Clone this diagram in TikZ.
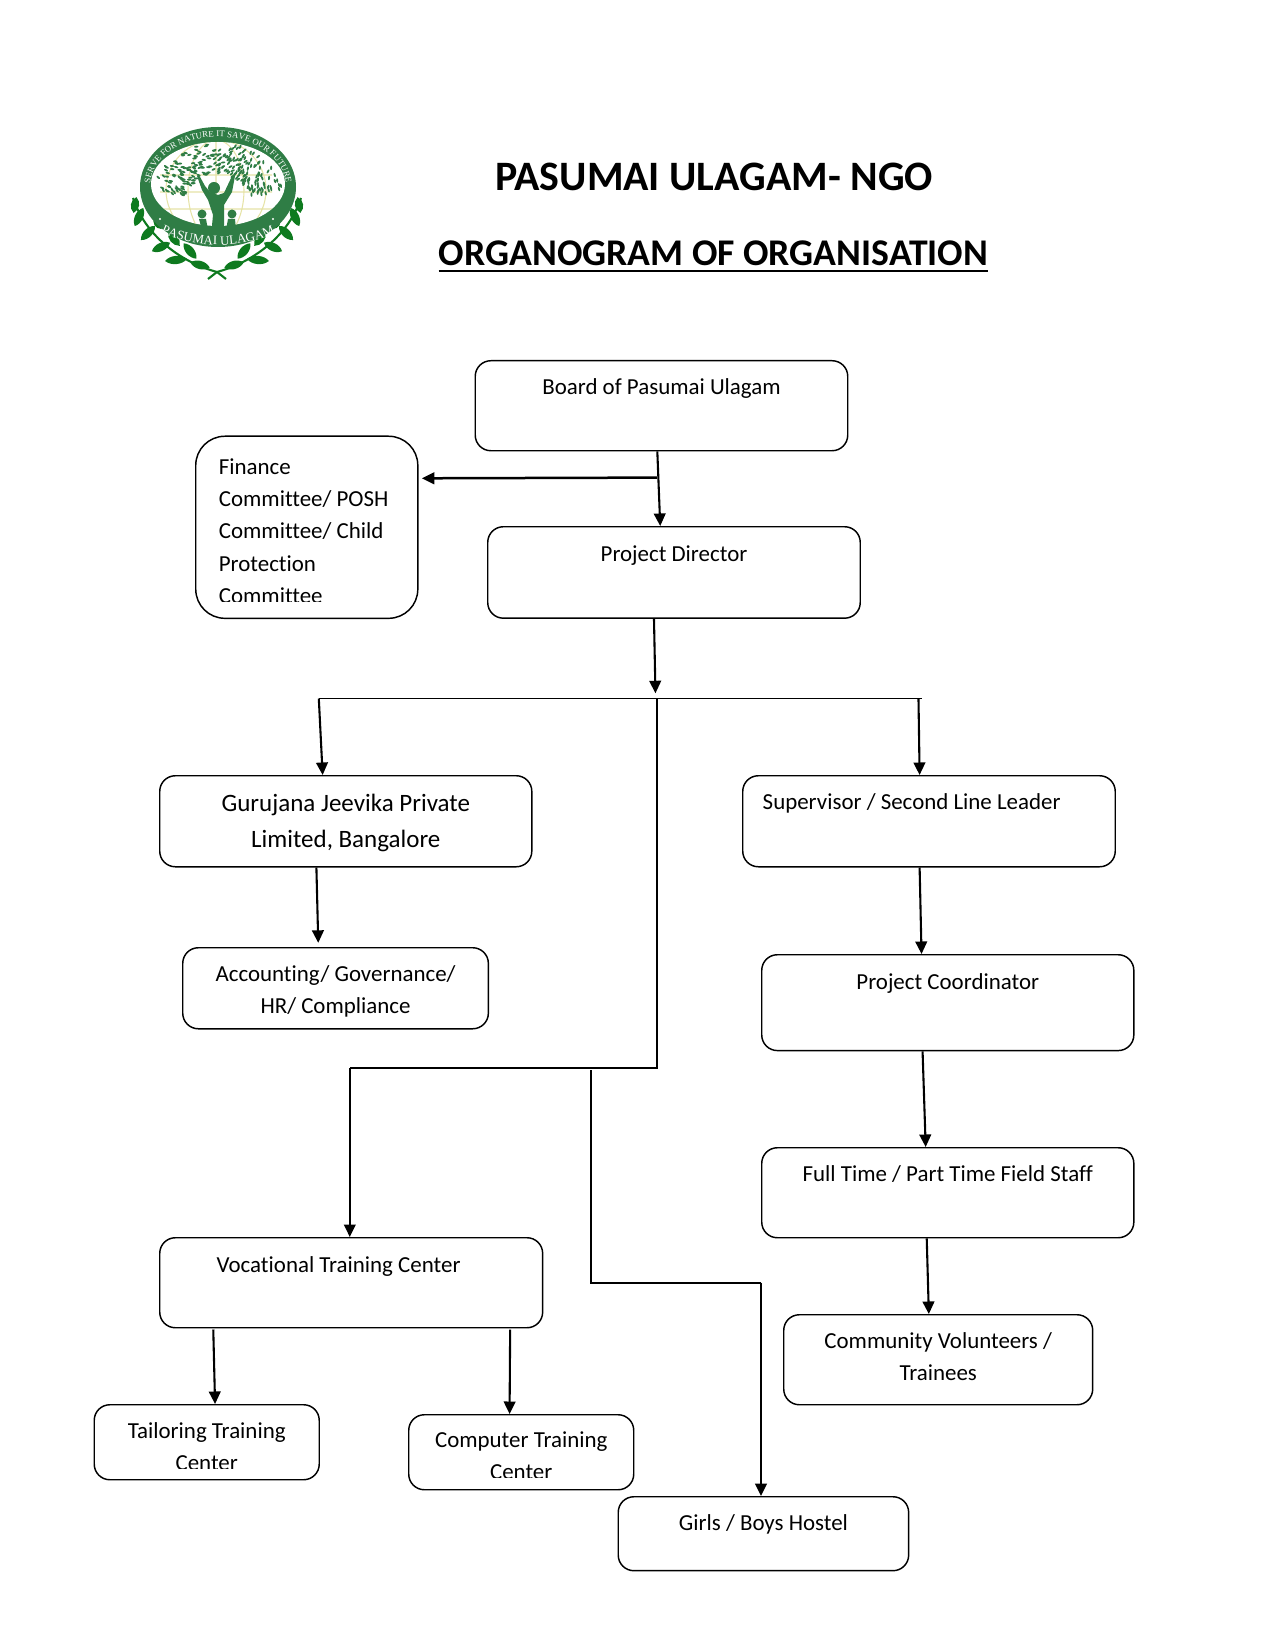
\documentclass[tikz,border=0pt]{standalone}
\usepackage{fontspec}
\setmainfont[Ligatures=NoCommon]{Carlito}
\newfontfamily\logofont{Liberation Serif}
\usetikzlibrary{arrows.meta,decorations.text}
\definecolor{ringgreen}{HTML}{2F7D45}
\definecolor{laurelgreen}{HTML}{0E7A1F}
\definecolor{globeyellow}{HTML}{E6E3A6}
\tikzset{org box/.style={draw,rounded corners=7.5pt,anchor=north west,inner sep=0pt,align=flush center,line width=0.7pt,font=\fontsize{11}{15.5}\selectfont},
	org line/.style={line width=0.9pt},
	org arrow/.style={line width=1pt,-{Triangle[length=6pt,width=5.6pt]}},
	title text/.style={inner sep=0pt,font=\fontsize{18.1}{22}\selectfont\bfseries},
	leaf/.style={fill=ringgreen},
}

\begin{document}
\begin{tikzpicture}[x=0.48pt,y=-0.48pt]
	\useasboundingbox (0,0) rectangle (1275,1650);
	
	% logo
	\foreach \mirror in {0,1}{
		\begin{scope}[shift={(434*\mirror,0)},xscale=1-2*\mirror]
			\draw[laurelgreen,line width=1pt] (226,279) -- (217,272) .. controls (180,262) and (145,235) .. (133,198);
			\foreach \lx/\ly/\la/\ll in {200/265/-15/10, 176/260/5/11, 190/251/-50/10, 161/247/25/10, 174/239/-50/9,
				148/233/45/10, 158/223/-60/7, 139/217/65/10, 135/205/80/8}{
				\fill[laurelgreen,shift={(\lx,\ly)},rotate=\la] (-\ll,0) .. controls (-\ll/2,5.5) and (\ll/2,5.5) .. (\ll,0)
				.. controls (\ll/2,-5.5) and (-\ll/2,-5.5) .. cycle;
			}
		\end{scope}
	}
	\fill[ringgreen] (218,187) circle[x radius=78,y radius=60];
	\fill[white] (218,184) circle[x radius=67,y radius=42];
	\begin{scope}
		\clip (218,184) circle[x radius=67,y radius=42];
		\draw[globeyellow,line width=0.5pt] (216,190) circle[radius=50]
		(216,190) circle[x radius=28,y radius=50] (216,140) -- (216,240)
		(160,175) -- (272,175) (160,192) -- (272,192) (160,209) -- (272,209);
		\pgfmathsetseed{41}
		\foreach \i in {1,...,260}{
			\pgfmathsetmacro\la{197+146*rnd}
			\pgfmathsetmacro\lr{0.52+0.48*rnd}
			\pgfmathsetmacro\lx{218+\lr*68*cos(\la)}
			\pgfmathsetmacro\ly{207+\lr*64*sin(\la)}
			\pgfmathsetmacro\lt{\la+90+50*rnd}
			\fill[leaf,rotate around={\lt:(\lx,\ly)}] (\lx,\ly) circle[x radius=2.2,y radius=1];
		}
	\end{scope}
	% woman and children
	\fill[ringgreen] (214,188) circle[radius=6];
	\fill[ringgreen] (197,176) -- (199,175) -- (205,186) -- (210,192) -- (218,195) -- (224,193) -- (232,176) -- (235,176)
	-- (232,192) -- (224,205) -- (224,236) -- (211,236) -- (213,215) -- (208,200) -- (202,190) -- cycle;
	\fill[ringgreen] (202,214) circle[radius=4.5] (232,214) circle[radius=4.5];
	\fill[ringgreen] (199,219) -- (206,219) -- (208,230) -- (202,230) -- cycle
	(228,219) -- (235,219) -- (236,230) -- (226,230) -- cycle;
	\path[decorate,decoration={text along path,text color=white,text align={fit to path},
		text={|\logofont\fontsize{4.2}{5}\selectfont|SERVE FOR NATURE IT SAVE OUR FUTURE}}]
	(218,188) ++(-176:68) arc[start angle=-176,end angle=-4,x radius=68,y radius=50];
	\path[decorate,decoration={text along path,text color=white,text align=center,
		text={|\logofont\fontsize{6.2}{7}\selectfont|PASUMAI ULAGAM}}]
	(218,196) ++(135:86 and 49) arc[start angle=135,end angle=45,x radius=86,y radius=49];
	\fill[white] (160,219) circle[radius=1.2] (273,219) circle[radius=1.2];
	
	% titles
	\node[title text,font=\fontsize{20.1}{24}\selectfont\bfseries] (title) at (714,177) {PASUMAI ULAGAM- NGO};
	\node[title text] (subtitle) at (713.5,253) {ORGANOGRAM OF ORGANISATION};
	\draw[line width=1pt] ([yshift=-2.8pt]subtitle.base west) -- ([yshift=-2.8pt]subtitle.base east);
	
	% boxes
	\node[org box,text width=178.8pt,text height=16.2pt,text depth=27pt] (board) at (474.5,360) {Board of Pasumai Ulagam};
	\node[org box,rounded corners=14pt,inner xsep=11.1pt,text width=84.4pt,text height=18.2pt,text depth=69.2pt,align=flush left] (finance) at (195,435.5) {Finance\\Committee/ POSH\\Committee/ Child\\Protection\\Committee};
	\node[org box,text width=178.8pt,text height=16.6pt,text depth=27.3pt] (director) at (487,526) {Project Director};
	\node[org box,text width=178.6pt,text height=17.2pt,text depth=26.5pt,font=\fontsize{12}{17.2}\selectfont] (gurujana) at (159,775) {Gurujana Jeevika Private\\Limited, Bangalore};
	\node[org box,inner xsep=9.6pt,text width=159.6pt,text height=16.2pt,text depth=27.5pt,align=flush left] (supervisor) at (742,775) {Supervisor / Second Line Leader};
	\node[org box,text width=146.7pt,text height=16.2pt,text depth=22.7pt] (accounting) at (182,947) {Accounting/ Governance/\\HR/ Compliance};
	\node[org box,text width=178.6pt,text height=16.7pt,text depth=29.3pt] (coordinator) at (761,954) {Project Coordinator};
	\node[org box,text width=178.6pt,text height=16.2pt,text depth=27pt] (fieldstaff) at (761,1147) {Full Time / Part Time Field Staff};
	\node[org box,text width=148.3pt,text height=16.2pt,text depth=27pt] (volunteers) at (783,1314) {Community Volunteers /\\Trainees};
	\node[org box,inner xsep=27.3pt,text width=129.2pt,text height=16.7pt,text depth=26.5pt,align=flush left] (vocational) at (159,1237) {Vocational Training Center};
	\node[org box,text width=108pt,text height=16.2pt,text depth=19.8pt] (tailoring) at (93.5,1404) {Tailoring Training\\Center};
	\node[org box,text width=108pt,text height=15.7pt,text depth=20.3pt] (computer) at (408,1414) {Computer Training\\Center};
	\node[org box,text width=139.4pt,text height=16.2pt,text depth=19.3pt] (hostel) at (617.5,1496) {Girls / Boys Hostel};
	
	% text cut off by its box
	\fill[white] (215,601.5) rectangle (330,606);
	\fill[white] (170,1468.5) rectangle (245,1473);
	\fill[white] (485,1478) rectangle (560,1483);
	
	% junctions
	\coordinate (boardtap) at (657,477.6);
	\coordinate (busleft) at (318.8,698.5);
	\coordinate (busmid) at (656.5,698.5);
	\coordinate (busright) at (921.6,698.5);
	\coordinate (trunkturn) at (656.5,1068);
	\coordinate (vocturn) at (349.8,1068);
	\coordinate (hosteltop) at (590.5,1070);
	\coordinate (hostelturn) at (590.5,1282.5);
	\coordinate (hostelover) at (761,1282.5);
	
	% connectors
	\draw[org arrow] ([xshift=-2pt]board.south) -- ([xshift=-6.6pt]director.north);
	\draw[org arrow,line width=1.2pt] (boardtap) -- ([xshift=1.6pt,yshift=23.5pt]finance.east);
	\draw[org arrow] ([xshift=-9.6pt]director.south) -- ([xshift=-0.5pt,yshift=2.5pt]busmid);
	\draw[org line] (busleft) -- (busright);
	\draw[org arrow] (busleft) -- ([xshift=-11.1pt]gurujana.north);
	\draw[org arrow] ([xshift=-1.5pt]busright) -- ([xshift=-4.5pt]supervisor.north);
	\draw[org arrow] ([xshift=-14.1pt]gurujana.south) -- ([xshift=-8.3pt,yshift=2pt]accounting.north);
	\draw[org arrow] ([xshift=-4.5pt]supervisor.south) -- ([xshift=-12.6pt]coordinator.north);
	\draw[org arrow] ([xshift=-12.1pt]coordinator.south) -- ([xshift=-10.6pt]fieldstaff.north);
	\draw[org arrow] ([xshift=-10.1pt]fieldstaff.south) -- ([xshift=-4.5pt]volunteers.north);
	\draw[org line,line width=0.95pt] (busmid) -- (trunkturn) -- (vocturn);
	\draw[org arrow] (vocturn) -- (vocturn |- vocational.north);
	\draw[org line,line width=0.95pt] (hosteltop) -- (hostelturn) -- (hostelover);
	\draw[org arrow] (hostelover) -- (hostelover |- hostel.north);
	\draw[org arrow] ([xshift=-66.2pt,yshift=-0.5pt]vocational.south) -- ([xshift=4pt]tailoring.north);
	\draw[org arrow] ([xshift=76.3pt,yshift=-0.5pt]vocational.south) -- ([xshift=-5.6pt]computer.north);
\end{tikzpicture}
\end{document}
